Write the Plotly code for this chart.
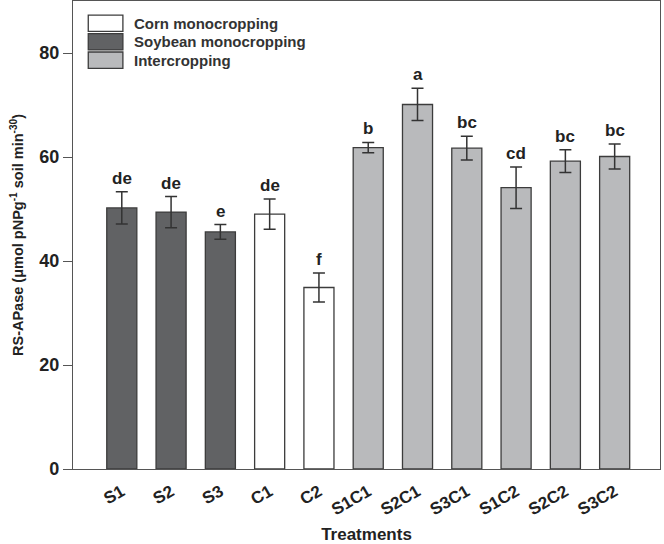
import plotly.graph_objects as go

treatments = ["S1", "S2", "S3", "C1", "C2", "S1C1", "S2C1", "S3C1", "S1C2", "S2C2", "S3C2"]
groups = ["Soybean", "Soybean", "Soybean", "Corn", "Corn",
          "Inter", "Inter", "Inter", "Inter", "Inter", "Inter"]
values = [50.2, 49.4, 45.6, 49.0, 34.9, 61.8, 70.1, 61.7, 54.1, 59.2, 60.1]
errors = [3.1, 3.0, 1.4, 2.9, 2.8, 1.0, 3.1, 2.3, 4.0, 2.2, 2.4]
letters = ["de", "de", "e", "de", "f", "b", "a", "bc", "cd", "bc", "bc"]

legend_names = ["Corn monocropping", "Soybean monocropping", "Intercropping"]
group_colors = {"Corn": "#ffffff", "Soybean": "#616264", "Inter": "#b9babc"}
legend_colors = [group_colors["Corn"], group_colors["Soybean"], group_colors["Inter"]]

FONT = "Liberation Sans, Arial, sans-serif"
EDGE = "#3c3c3c"

fig = go.Figure()
fig.add_trace(go.Bar(
    x=treatments, y=values,
    marker=dict(color=[group_colors[g] for g in groups],
                line=dict(color=EDGE, width=1.3)),
    width=0.61,
    error_y=dict(type="data", array=errors, visible=True,
                 color="#333333", thickness=1.5, width=6),
    showlegend=False,
))

for t, v, e, l in zip(treatments, values, errors, letters):
    fig.add_annotation(x=t, y=v + e, text=l, showarrow=False,
                       yanchor="bottom", yshift=2,
                       font=dict(family=FONT, size=17, color="#222222", weight="bold"))

# legend drawn inside the plot area
for i, (name, col) in enumerate(zip(legend_names, legend_colors)):
    y0 = 0.970 - i * 0.0395
    fig.add_shape(type="rect", xref="paper", yref="paper",
                  x0=0.026, x1=0.085, y0=y0 - 0.035, y1=y0,
                  fillcolor=col, line=dict(color=EDGE, width=1.3))
    fig.add_annotation(xref="paper", yref="paper", x=0.1, y=y0 - 0.0175,
                       text=name, showarrow=False,
                       xanchor="left", yanchor="middle",
                       font=dict(family=FONT, size=15, color="#333333", weight="bold"))

fig.update_layout(
    width=664, height=544,
    margin=dict(l=73, r=4, t=1, b=75),
    paper_bgcolor="white", plot_bgcolor="white",
    font=dict(family=FONT, color="#222222"),
    xaxis=dict(range=[-0.99, 10.92], showline=True, linecolor="#555555",
               linewidth=1.3, mirror=True, ticks="outside", ticklen=5,
               tickcolor="rgba(0,0,0,0)", tickangle=-30, automargin=False,
               tickfont=dict(family=FONT, size=17, color="#222222", weight="bold"),
               title=dict(text="Treatments", standoff=20,
                          font=dict(family=FONT, size=17, color="#222222", weight="bold"))),
    yaxis=dict(range=[0, 90], showline=True, linecolor="#555555",
               linewidth=1.3, mirror=True, ticks="outside", ticklen=9,
               tickcolor="#555555", tickvals=[0, 20, 40, 60, 80],
               showgrid=False, zeroline=False, automargin=False,
               tickfont=dict(family=FONT, size=18, color="#222222", weight="bold"),
               title=dict(text="RS-APase (μmol pNPg<sup>-1</sup> soil min<sup>-30</sup>)",
                          standoff=12,
                          font=dict(family=FONT, size=14.5, color="#222222", weight="bold"))),
)

fig.write_html("out.html", post_script="document.body.style.margin='0px';",
               config={"displayModeBar": False})
